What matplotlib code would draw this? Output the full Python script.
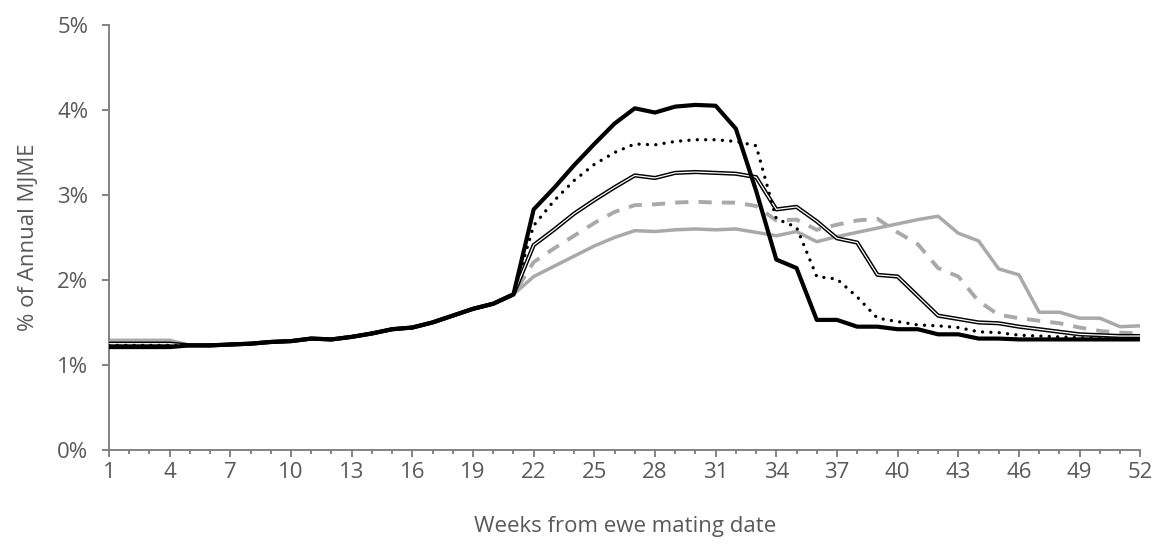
import numpy as np
import matplotlib
matplotlib.use("Agg")
import matplotlib.pyplot as plt
import matplotlib.patheffects as pe

plt.rcParams["font.family"] = ["Open Sans", "DejaVu Sans"]

weeks = np.arange(1, 53)

# weekly MJME share (% of annual) for each scenario
base_1_21 = [1.23, 1.23, 1.24, 1.25, 1.27, 1.28, 1.31, 1.30, 1.33, 1.37,
             1.42, 1.44, 1.50, 1.58, 1.66, 1.72, 1.83]  # weeks 5-21

thick_black = [1.21, 1.21, 1.21, 1.21] + base_1_21 + [
    2.83, 3.08, 3.35, 3.60, 3.84, 4.02, 3.97, 4.04, 4.06, 4.05, 3.78, 3.05,
    2.24, 2.14, 1.53, 1.53, 1.45, 1.45, 1.42, 1.42, 1.36, 1.36, 1.31, 1.31,
    1.30, 1.30, 1.30, 1.30, 1.30, 1.30, 1.30]

dotted_black = [1.23, 1.23, 1.23, 1.23] + base_1_21 + [
    2.64, 2.93, 3.17, 3.36, 3.50, 3.60, 3.59, 3.63, 3.65, 3.65, 3.63, 3.58,
    2.72, 2.62, 2.04, 2.01, 1.80, 1.55, 1.51, 1.47, 1.46, 1.44, 1.39, 1.38,
    1.35, 1.34, 1.33, 1.32, 1.31, 1.31, 1.31]

double_line = [1.25, 1.25, 1.25, 1.25] + base_1_21 + [
    2.41, 2.59, 2.78, 2.94, 3.09, 3.23, 3.20, 3.26, 3.27, 3.26, 3.25, 3.21,
    2.83, 2.86, 2.69, 2.49, 2.44, 2.06, 2.04, 1.81, 1.58, 1.54, 1.50, 1.49,
    1.45, 1.42, 1.39, 1.36, 1.35, 1.34, 1.34]

dashed_grey = [1.27, 1.27, 1.27, 1.27] + base_1_21 + [
    2.21, 2.37, 2.52, 2.67, 2.80, 2.88, 2.89, 2.91, 2.92, 2.91, 2.91, 2.87,
    2.70, 2.71, 2.59, 2.65, 2.70, 2.72, 2.56, 2.42, 2.14, 2.04, 1.75, 1.59,
    1.55, 1.52, 1.49, 1.44, 1.40, 1.38, 1.37]

solid_grey = [1.29, 1.29, 1.29, 1.29] + base_1_21 + [
    2.04, 2.16, 2.28, 2.40, 2.50, 2.58, 2.57, 2.59, 2.60, 2.59, 2.60, 2.56,
    2.52, 2.57, 2.45, 2.51, 2.56, 2.61, 2.66, 2.71, 2.75, 2.55, 2.46, 2.13,
    2.06, 1.62, 1.62, 1.55, 1.55, 1.45, 1.46]

label_weeks = list(range(1, 53, 3))
text_col = "#595959"
axis_col = "#7a7a7a"
grey = "#a9a9a9"
fs = 16

fig = plt.figure(figsize=(11.6, 5.44), dpi=100)
ax = fig.add_axes([0.094, 0.173, 0.889, 0.781])

ax.plot(weeks, np.array(solid_grey) / 100, color=grey, lw=2.5,
        solid_joinstyle="round", zorder=2)
ax.plot(weeks, np.array(dashed_grey) / 100, color=grey, lw=2.8,
        dashes=(3.4, 2.6), dash_capstyle="butt", zorder=3)
ax.plot(weeks, np.array(double_line) / 100, color="white", lw=0.9, zorder=4,
        path_effects=[pe.Stroke(linewidth=3.0, foreground="black"), pe.Normal()])
ax.plot(weeks, np.array(dotted_black) / 100, color="black", lw=2.4,
        dashes=(0.01, 2.5), dash_capstyle="round", zorder=5)
ax.plot(weeks, np.array(thick_black) / 100, color="black", lw=3.0,
        solid_joinstyle="round", zorder=6)

ax.set_xlim(1, 52)
ax.set_ylim(0, 0.05)
ax.set_yticks(np.arange(0, 0.051, 0.01))
ax.set_yticklabels([f"{i}%" for i in range(6)])
ax.set_xticks(label_weeks)
ax.set_xticklabels([str(w) for w in label_weeks])
ax.set_xticks(weeks, minor=True)

for side in ("top", "right"):
    ax.spines[side].set_visible(False)
for side in ("left", "bottom"):
    ax.spines[side].set_color(axis_col)
    ax.spines[side].set_linewidth(1.3)

ax.tick_params(axis="y", which="major", length=5, width=1.3, color=axis_col,
               labelsize=fs, labelcolor=text_col, pad=10)
ax.tick_params(axis="x", which="major", length=5, width=1.3, color=axis_col,
               labelsize=fs, labelcolor=text_col, pad=4)
ax.tick_params(axis="x", which="minor", length=3.2, width=1.3, color=axis_col)

ax.set_ylabel("% of Annual MJME", fontsize=fs, color=text_col)
ax.yaxis.set_label_coords(-0.068, 0.5)
ax.set_xlabel("Weeks from ewe mating date", fontsize=fs, color=text_col)
ax.xaxis.set_label_coords(0.5, -0.155)

fig.savefig("out.png", dpi=100)
